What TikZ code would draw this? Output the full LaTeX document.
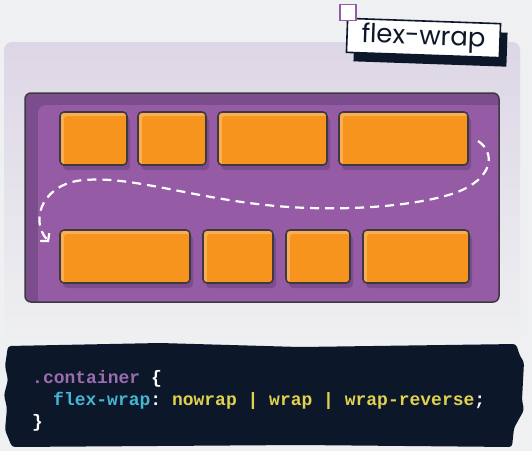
\documentclass[tikz,border=0pt]{standalone}
\usepackage{fontspec}
\setmonofont{Liberation Mono}
\newfontfamily\tagfont{Poppins}
\usetikzlibrary{arrows.meta, shadows}

\definecolor{bg}{HTML}{EFF0F2}
\definecolor{panel}{HTML}{DDD6E6}
\definecolor{wrapfill}{HTML}{955BA5}
\definecolor{wrapdark}{HTML}{7B4D8C}
\definecolor{wrapline}{HTML}{3C3A40}
\definecolor{boxorange}{HTML}{F7941D}
\definecolor{boxlite}{HTML}{F9AD55}
\definecolor{boxshade}{HTML}{7D4C8E}
\definecolor{ink}{HTML}{0C1729}
\definecolor{codepurple}{HTML}{9A6CB0}
\definecolor{codecyan}{HTML}{45B5D6}
\definecolor{codeyellow}{HTML}{E1D24E}

\begin{document}
\begin{tikzpicture}[x=1pt, y=-1pt,
    item/.style={draw=wrapline, line width=1.6pt, fill=boxorange, rounded corners=4pt,
        minimum height=53pt, inner sep=0pt,
        drop shadow={shadow xshift=3pt, shadow yshift=-5pt, fill=boxshade, opacity=1},
        path picture={
            \fill[boxlite] (path picture bounding box.north west) rectangle (path picture bounding box.south east);
            \fill[boxorange, rounded corners=3pt] ([shift={(4pt,-4pt)}]path picture bounding box.north west)
                rectangle ([shift={(40pt,-40pt)}]path picture bounding box.south east);}},
    flow/.style={draw=white, line width=2.2pt, dash pattern=on 9pt off 6pt,
        -{Straight Barb[length=5pt, width=12pt]}},
    code/.style={font=\ttfamily\bfseries\fontsize{18}{22}\selectfont, anchor=base west,
        inner sep=0pt, text=white},
    tag/.style={draw=ink, fill=white, line width=1.6pt, minimum width=153pt, minimum height=34pt,
        font=\tagfont\fontsize{26}{26}\selectfont, text=ink, rotate=-2,
        drop shadow={shadow xshift=7pt, shadow yshift=-9pt, fill=ink, opacity=1}},
    tack/.style={draw=wrapfill, fill=white, line width=1.8pt, minimum size=16pt, inner sep=0pt}]

    % background and panel
    \fill[bg] (0,0) rectangle (532,451);
    \shade[top color=panel, middle color=panel!70!bg, bottom color=bg, rounded corners=8pt]
        (4,42) rectangle (520,345);

    % flex container
    \node[draw=wrapline, line width=1.5pt, fill=wrapfill, rounded corners=6pt,
        minimum width=474pt, minimum height=209pt,
        path picture={
            \fill[wrapdark] (path picture bounding box.north west) rectangle (path picture bounding box.south east);
            \fill[wrapfill, rounded corners=8pt] ([shift={(13pt,-12pt)}]path picture bounding box.north west)
                rectangle ([shift={(40pt,-40pt)}]path picture bounding box.south east);}]
        (wrapbox) at (262,197.5) {};

    % items
    \node[item, minimum width=67pt] (b1) at (93.5,138.5) {};
    \node[item, minimum width=68pt] (b2) at (172,138.5) {};
    \node[item, minimum width=109pt] (b3) at (272.5,138.5) {};
    \node[item, minimum width=129pt] (b4) at (403.5,138.5) {};
    \node[item, minimum width=130pt] (b5) at (125,256.5) {};
    \node[item, minimum width=70pt] (b6) at (238,256.5) {};
    \node[item, minimum width=64pt] (b7) at (318,256.5) {};
    \node[item, minimum width=106pt] (b8) at (416,256.5) {};

    % wrap line
    \coordinate (wrapstart) at (478,141);
    \coordinate (wrapend) at (49,242);
    \draw[flow] (wrapstart) .. controls (495,152) and (495,178) .. (455,193)
        .. controls (410,208) and (330,212) .. (266,205)
        .. controls (190,197) and (130,176) .. (85,180)
        .. controls (45,182) and (28,218) .. (wrapend);

    % title tag
    \node[tag] (title) at (423.5,38) {flex-wrap};
    \node[tack] (corner) at (348,12.5) {};

    % code block
    \fill[ink, rounded corners=3pt] (8,346) -- (160,343) -- (300,347) -- (516,344) -- (520,356)
        -- (524,362) -- (522,400) -- (524,410) -- (514,428) -- (512,447) -- (300,445) -- (12,447)
        -- (5,430) -- (7,408) -- (4,395) -- (8,380) -- (5,366) -- cycle;
    \node[code] (sel) at (32,383) {\color{codepurple}.container \color{white}\{};
    \node[code] (prop) at (53,405) {\color{codecyan}flex-wrap\color{white}:
        \color{codeyellow}nowrap | wrap | wrap-reverse\color{white};};
    \node[code] (close) at (32,427) {\}};
\end{tikzpicture}
\end{document}
